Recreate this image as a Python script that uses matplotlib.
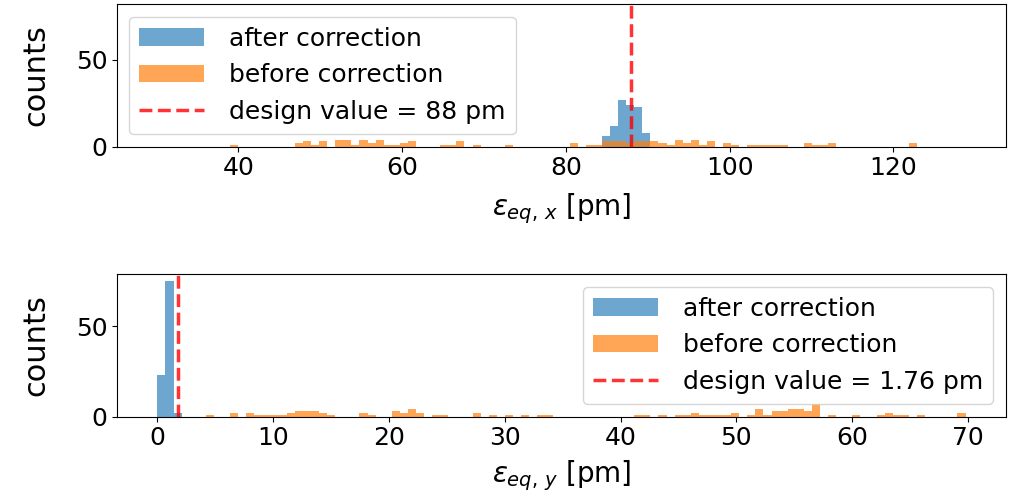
import matplotlib
matplotlib.use("Agg")
import matplotlib.pyplot as plt
import numpy as np

# histogram bins (shared by both series in each panel)
x_lo, x_hi, n_bins = 30.1, 128.8, 100
y_lo, y_hi = 0.0, 69.8

# horizontal emittance: bin index -> counts
x_after_bins = [55, 56, 57, 58, 59, 60]
x_after_counts = [6, 12, 27, 24, 23, 8]
x_before_bins = [9, 17, 18, 19, 20, 22, 23, 24, 25, 26, 27, 28, 29, 30, 31,
                 35, 36, 37, 39, 43, 51, 53, 54, 55, 56, 57, 58, 59, 60,
                 61, 62, 63, 64, 65, 66, 67, 68, 70, 71, 73, 74, 75, 76, 77,
                 80, 81, 82, 83, 93]
x_before_counts = [1, 2, 3, 1, 3, 4, 4, 1, 4, 2, 4, 1, 1, 2, 3,
                   1, 1, 3, 1, 1, 2, 1, 1, 3, 3, 3, 2, 3, 3,
                   3, 2, 1, 4, 2, 4, 1, 3, 2, 1, 1, 1, 1, 1, 1,
                   2, 1, 1, 2, 2]
x_design = 88

# vertical emittance
y_after_bins = [0, 1, 2]
y_after_counts = [23, 75, 2]
y_before_bins = [6, 9, 11, 12, 13, 14, 15, 16, 17, 18, 19, 20, 21, 25, 26,
                 29, 30, 31, 32, 34, 35, 39, 41, 43, 45, 47, 48, 59, 60, 62,
                 64, 65, 66, 67, 68, 69, 70, 71, 73, 74, 75, 76, 77, 78, 79,
                 80, 81, 83, 86, 89, 90, 91, 92, 94, 99]
y_before_counts = [1, 2, 2, 1, 1, 1, 1, 2, 3, 3, 3, 2, 1, 2, 1,
                   3, 2, 4, 2, 1, 1, 2, 1, 1, 1, 1, 1, 1, 1, 1,
                   1, 1, 2, 1, 1, 1, 1, 2, 1, 4, 1, 3, 3, 4, 4,
                   3, 7, 1, 1, 1, 2, 1, 1, 1, 2]
y_design = 1.76

plt.rcParams['font.size'] = 18


def draw(ax, lo, hi, after_bins, after_counts, before_bins, before_counts, design, unit_lbl):
    edges = np.linspace(lo, hi, n_bins + 1)
    centers = 0.5 * (edges[:-1] + edges[1:])
    ax.hist(centers[after_bins], bins=edges, weights=after_counts, alpha=0.65,
            color='C0', label='after correction')
    ax.hist(centers[before_bins], bins=edges, weights=before_counts, alpha=0.7,
            color='C1', label='before correction')
    ax.axvline(design, color='r', ls='--', lw=2.5, alpha=0.8,
               label='design value = %s pm' % unit_lbl)
    ax.set_ylabel('counts', fontsize=22, labelpad=18)
    ax.tick_params(labelsize=18)


fig = plt.figure(figsize=(10.12, 4.98), dpi=100)
ax1 = fig.add_axes([0.1156, 0.7054, 0.8784, 0.2865])
ax2 = fig.add_axes([0.1156, 0.1633, 0.8784, 0.2860])

draw(ax1, x_lo, x_hi, x_after_bins, x_after_counts, x_before_bins, x_before_counts, x_design, '88')
ax1.set_ylim(0, 82)
ax1.set_xlabel(r'$\epsilon_{eq,\,x}$ [pm]', fontsize=20, labelpad=8)
ax1.legend(loc='upper left', fontsize=18, handlelength=2.6, handletextpad=1.0)

draw(ax2, y_lo, y_hi, y_after_bins, y_after_counts, y_before_bins, y_before_counts, y_design, '1.76')
ax2.set_xlabel(r'$\epsilon_{eq,\,y}$ [pm]', fontsize=20, labelpad=6)
ax2.legend(loc='upper right', fontsize=18, handlelength=2.6, handletextpad=1.0)

plt.savefig('out.png', dpi=100)
